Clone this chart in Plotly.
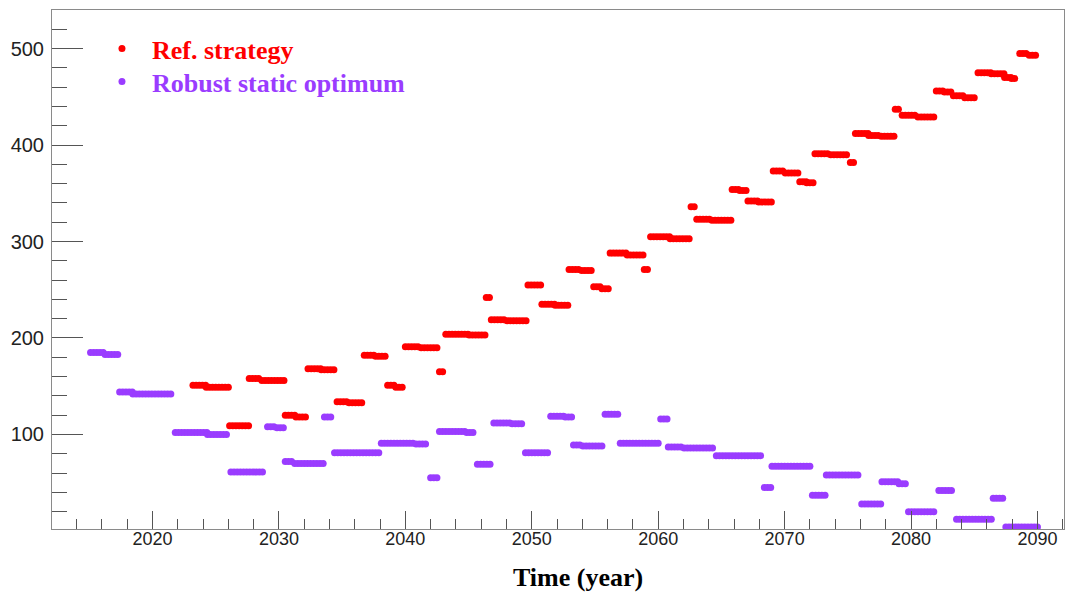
import numpy as np
import plotly.graph_objects as go

# Quarterly sampling of the piecewise-constant cost levels
STEP = 0.25

# Ref. strategy: level segments (first year, last year, value)
ref_start = [2023.2, 2024.25, 2026.1, 2027.65, 2028.65, 2030.5, 2031.35, 2032.3, 2033.35,
             2034.6, 2035.55, 2036.75, 2037.65, 2038.6, 2039.25, 2040.0, 2041.25, 2042.7,
             2043.2, 2045.05, 2046.4, 2046.8, 2048.05, 2049.7, 2050.8, 2051.85, 2052.95,
             2053.95, 2054.9, 2055.55, 2056.2, 2057.55, 2058.9, 2059.4, 2060.95, 2062.6,
             2063.05, 2064.25, 2065.85, 2066.45, 2067.1, 2067.95, 2069.1, 2070.05, 2071.2,
             2071.75, 2072.4, 2073.65, 2075.2, 2075.6, 2076.65, 2077.65, 2078.75, 2079.3,
             2080.55, 2082.0, 2082.65, 2083.35, 2084.25, 2085.3, 2086.35, 2087.4, 2087.95,
             2088.6, 2089.35]
ref_end = [2024.2, 2026.05, 2027.6, 2028.6, 2030.4, 2031.3, 2032.1, 2033.3, 2034.5,
           2035.5, 2036.7, 2037.6, 2038.55, 2039.2, 2039.9, 2041.2, 2042.6, 2043.0,
           2045.0, 2046.3, 2046.7, 2048.0, 2049.6, 2050.75, 2051.8, 2052.9, 2053.9,
           2054.8, 2055.5, 2056.1, 2057.5, 2058.8, 2059.3, 2060.9, 2062.5, 2063.0,
           2064.2, 2065.8, 2066.4, 2067.0, 2067.9, 2069.0, 2070.0, 2071.1, 2071.7,
           2072.3, 2073.6, 2075.1, 2075.5, 2076.6, 2077.6, 2078.7, 2079.2, 2080.5,
           2081.95, 2082.6, 2083.3, 2084.2, 2085.2, 2086.3, 2087.35, 2087.9, 2088.4,
           2089.3, 2090.0]
ref_level = [151, 149, 109, 158, 156, 120, 118, 168, 167,
             134, 133, 182, 181, 151, 149, 191, 190, 165,
             204, 203, 242, 219, 218, 255, 235, 234, 271,
             270, 253, 251, 288, 286, 271, 305, 303, 336,
             323, 322, 354, 353, 342, 341, 373, 371, 362,
             361, 391, 390, 382, 412, 410, 409, 437, 431,
             429, 456, 455, 451, 449, 475, 474, 470, 469,
             495, 493]

# Robust static optimum: level segments (first year, last year, value)
rob_start = [2015.1, 2016.25, 2017.4, 2018.45, 2021.8, 2024.35, 2026.2, 2029.1, 2029.85,
             2030.5, 2031.25, 2033.6, 2034.4, 2038.1, 2040.85, 2042.0, 2042.7, 2044.85,
             2045.7, 2047.0, 2048.45, 2049.5, 2051.5, 2052.65, 2053.3, 2054.05, 2055.8,
             2057.0, 2060.2, 2060.8, 2062.05, 2064.6, 2068.4, 2069.0, 2072.2, 2073.3,
             2076.1, 2077.7, 2079.05, 2079.8, 2082.2, 2083.6, 2086.5, 2087.5]
rob_end = [2016.2, 2017.25, 2018.4, 2021.6, 2024.3, 2026.0, 2028.9, 2029.8, 2030.4,
           2031.2, 2033.5, 2034.2, 2037.9, 2040.8, 2041.8, 2042.6, 2044.8, 2045.5,
           2046.9, 2048.4, 2049.3, 2051.4, 2052.6, 2053.2, 2054.0, 2055.7, 2056.9,
           2060.0, 2060.7, 2062.0, 2064.5, 2068.3, 2068.9, 2072.1, 2073.2, 2075.9,
           2077.6, 2079.0, 2079.6, 2082.0, 2083.4, 2086.4, 2087.3, 2090.0]
rob_level = [185, 183, 144, 142, 102, 100, 61, 108, 107,
             72, 70, 118, 81, 91, 90, 55, 103, 102,
             69, 112, 111, 81, 119, 118, 89, 88, 121,
             91, 116, 87, 86, 78, 45, 67, 37, 58,
             28, 51, 49, 20, 42, 12, 34, 4]

x_ticks = [2020, 2030, 2040, 2050, 2060, 2070, 2080, 2090]
y_ticks = [100, 200, 300, 400, 500]

RED = "#ff0000"
VIOLET = "#9a3cff"


def expand(starts, ends, levels):
    """Sample each constant segment on a quarterly grid."""
    xs, ys = [], []
    for s, e, v in zip(starts, ends, levels):
        t = np.arange(s, e + 1e-6, STEP)
        xs.extend(t.tolist())
        ys.extend([v] * len(t))
    return xs, ys


ref_x, ref_y = expand(ref_start, ref_end, ref_level)
rob_x, rob_y = expand(rob_start, rob_end, rob_level)

fig = go.Figure()
fig.add_trace(go.Scatter(
    x=ref_x, y=ref_y, mode="markers",
    marker=dict(color=RED, size=7, line=dict(width=0)),
    name=f"<b><span style='color:{RED}'>Ref. strategy</span></b>",
    legend="legend",
))
fig.add_trace(go.Scatter(
    x=rob_x, y=rob_y, mode="markers",
    marker=dict(color=VIOLET, size=7, line=dict(width=0)),
    name=f"<b><span style='color:{VIOLET}'>Robust static optimum</span></b>",
    legend="legend2",
))

axis_line = "#8a8a8a"
tick_col = "#555555"

legend_style = dict(
    xanchor="left", yanchor="top",
    bgcolor="rgba(0,0,0,0)",
    font=dict(family="Liberation Serif", size=26, color="black"),
    itemsizing="trace", itemwidth=50,
)

fig.update_layout(
    width=1068, height=592,
    margin=dict(l=52, r=4, t=10, b=63),
    paper_bgcolor="white", plot_bgcolor="white",
    showlegend=True,
    legend=dict(x=0.0395, y=0.9711, **legend_style),
    legend2=dict(x=0.0395, y=0.9075, **legend_style),
    xaxis=dict(
        range=[2012.05, 2092.1],
        tickmode="array", tickvals=x_ticks, ticktext=[str(v) for v in x_ticks],
        ticks="inside", ticklen=18, tickwidth=1, tickcolor=tick_col,
        minor=dict(dtick=2, tick0=2012, ticks="inside", ticklen=10, tickcolor=tick_col, showgrid=False),
        showline=True, linecolor=axis_line, linewidth=1, mirror=True,
        showgrid=False, zeroline=False,
        tickfont=dict(family="Liberation Sans", size=18, color="#222222"),
        ticklabelstandoff=-7,
    ),
    yaxis=dict(
        range=[2, 540],
        tickmode="array", tickvals=y_ticks, ticktext=[str(v) for v in y_ticks],
        ticks="inside", ticklen=31, tickwidth=1, tickcolor=tick_col,
        minor=dict(dtick=20, tick0=0, ticks="inside", ticklen=15, tickcolor=tick_col, showgrid=False),
        showline=True, linecolor=axis_line, linewidth=1, mirror=True,
        showgrid=False, zeroline=False,
        tickfont=dict(family="Liberation Sans", size=20, color="#222222"),
        ticklabelstandoff=3,
    ),
    annotations=[dict(
        text="<b>Time (year)</b>", xref="paper", yref="paper",
        x=0.52, y=-0.094, xanchor="center", yanchor="middle", showarrow=False,
        font=dict(family="Liberation Serif", size=26, color="black"),
    )],
)

fig.write_html("out.html")
